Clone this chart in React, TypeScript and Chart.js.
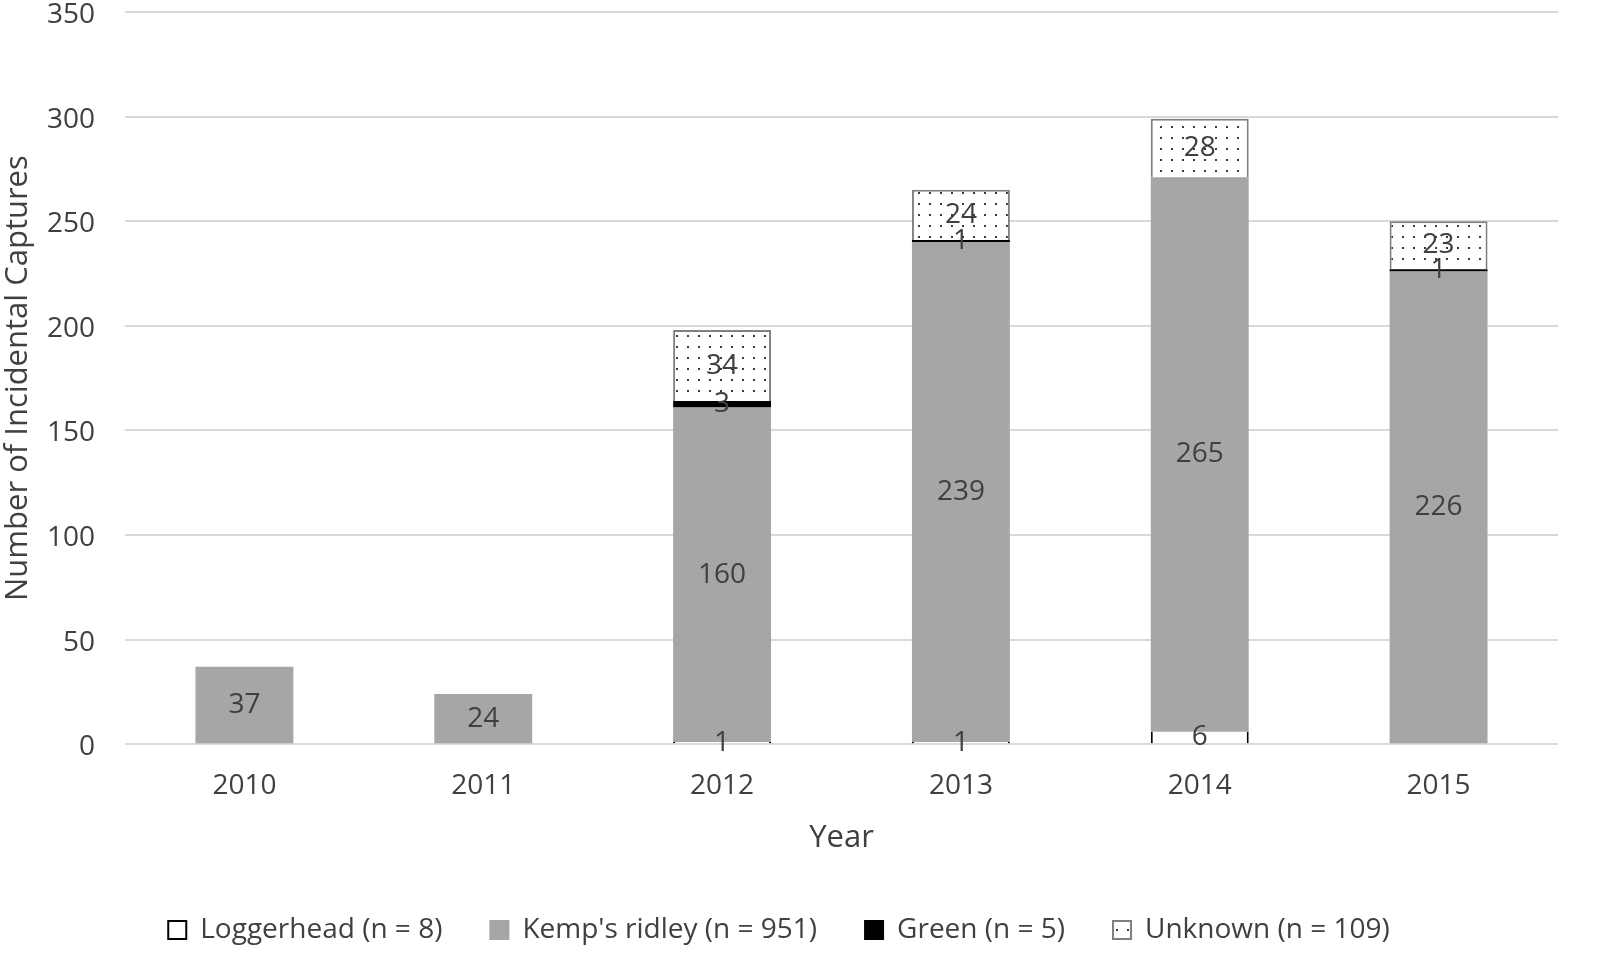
import React, { useEffect, useRef } from "react";
import Chart from "chart.js/auto";

const YEARS = ["2010", "2011", "2012", "2013", "2014", "2015"];
const LOGGERHEAD = [0, 0, 1, 1, 6, 0];
const KEMPS_RIDLEY = [37, 24, 160, 239, 265, 226];
const GREEN = [0, 0, 3, 1, 0, 1];
const UNKNOWN = [0, 0, 34, 24, 28, 23];

const FONT = "'Open Sans', 'Noto Sans', sans-serif";
const TEXT = "#404040";

// stipple fill used for the "Unknown" series
function dotPattern(): CanvasPattern | string {
  const tile = document.createElement("canvas");
  tile.width = 11;
  tile.height = 11;
  const c = tile.getContext("2d");
  if (!c) return "#fff";
  c.fillStyle = "#fff";
  c.fillRect(0, 0, 11, 11);
  c.fillStyle = "#3a3a3a";
  c.fillRect(5, 5, 2, 2);
  const p = c.createPattern(tile, "repeat");
  return p || "#fff";
}

const barLabels = {
  id: "barLabels",
  afterDatasetsDraw(chart: Chart) {
    const { ctx } = chart;
    ctx.save();
    ctx.font = `28px ${FONT}`;
    ctx.fillStyle = TEXT;
    ctx.textAlign = "center";
    ctx.textBaseline = "middle";
    chart.data.datasets.forEach((ds, di) => {
      const meta = chart.getDatasetMeta(di);
      meta.data.forEach((el: any, i) => {
        const v = ds.data[i] as number;
        if (!v) return;
        const pt = el.getCenterPoint();
        ctx.fillText(String(v), pt.x, pt.y);
      });
    });
    ctx.restore();
  },
};

const App: React.FC = () => {
  const chartRef = useRef<HTMLCanvasElement>(null);
  const chartInstance = useRef<Chart | null>(null);

  useEffect(() => {
    if (!chartRef.current) return;
    const ctx = chartRef.current.getContext("2d");
    if (!ctx) return;
    if (chartInstance.current) chartInstance.current.destroy();

    const common = {
      barPercentage: 0.41,
      categoryPercentage: 1,
      stack: "s",
    };

    chartInstance.current = new Chart(ctx, {
      type: "bar",
      data: {
        labels: YEARS,
        datasets: [
          {
            label: "Loggerhead (n = 8)",
            data: LOGGERHEAD,
            backgroundColor: "#ffffff",
            borderColor: "#000000",
            borderWidth: { left: 2, right: 2, top: 0, bottom: 0 },
            ...common,
          },
          {
            label: "Kemp's ridley (n = 951)",
            data: KEMPS_RIDLEY,
            backgroundColor: "#a6a6a6",
            borderColor: "#a6a6a6",
            borderWidth: 0,
            ...common,
          },
          {
            label: "Green (n = 5)",
            data: GREEN,
            backgroundColor: "#000000",
            borderColor: "#000000",
            borderWidth: 0,
            ...common,
          },
          {
            label: "Unknown (n = 109)",
            data: UNKNOWN,
            backgroundColor: dotPattern() as any,
            borderColor: "#7f7f7f",
            borderWidth: 2,
            ...common,
          },
        ],
      },
      options: {
        animation: false,
        responsive: false,
        maintainAspectRatio: false,
        layout: { padding: { left: 0, right: 42, top: 0, bottom: 14 } },
        plugins: {
          tooltip: { enabled: false },
          legend: {
            position: "bottom",
            labels: {
              color: TEXT,
              font: { family: FONT, size: 28 },
              boxWidth: 18,
              boxHeight: 18,
              padding: 48,
              generateLabels: (chart: Chart) => {
                const items = Chart.defaults.plugins.legend.labels.generateLabels(chart);
                items.forEach((it: any) => {
                  it.lineWidth = 2;
                  if (it.text.startsWith("Loggerhead")) it.strokeStyle = "#000";
                });
                return items;
              },
            },
          },
        },
        scales: {
          x: {
            stacked: true,
            grid: { display: false },
            border: { display: false },
            ticks: { color: TEXT, font: { family: FONT, size: 28 }, padding: 17 },
            title: {
              display: true,
              text: "Year",
              color: TEXT,
              font: { family: FONT, size: 31 },
              padding: { top: 0, bottom: 11 },
            },
          },
          y: {
            stacked: true,
            min: 0,
            max: 350,
            border: { display: false },
            grid: { color: "#d9d9d9", lineWidth: 2, drawTicks: false },
            ticks: {
              stepSize: 50,
              color: TEXT,
              font: { family: FONT, size: 28 },
              padding: 30,
              labelOffset: 3,
            },
            title: {
              display: true,
              text: "Number of Incidental Captures",
              color: TEXT,
              font: { family: FONT, size: 31 },
              padding: { top: 0, bottom: 4 },
            },
            afterFit: (scale: any) => {
              scale.width = 125;
              scale.paddingTop = 12;
            },
          },
        },
      },
      plugins: [barLabels],
    });

    return () => {
      if (chartInstance.current) {
        chartInstance.current.destroy();
        chartInstance.current = null;
      }
    };
  }, []);

  return (
    <div style={{ position: "fixed", left: 0, top: 0, width: 1600, height: 968, background: "#fff" }}>
      <canvas ref={chartRef} width={1600} height={968} style={{ width: 1600, height: 968 }}></canvas>
    </div>
  );
};

export default App;
